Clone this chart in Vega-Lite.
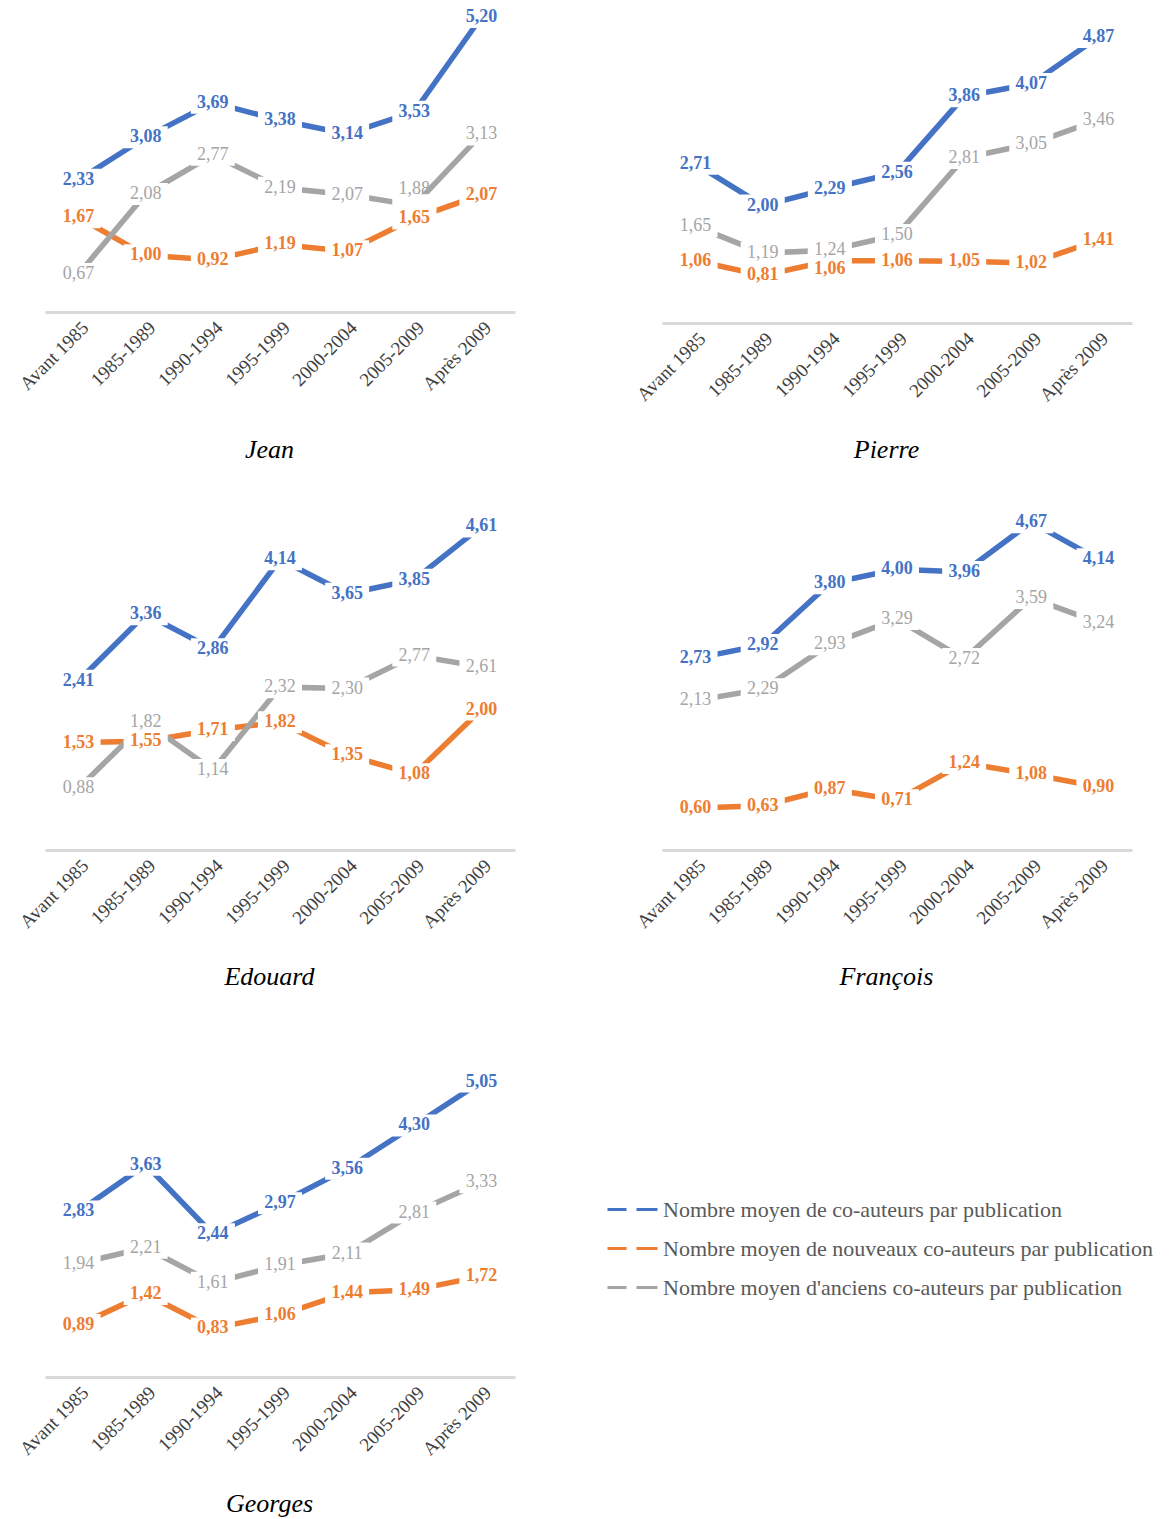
{
  "$schema": "https://vega.github.io/schema/vega-lite/v6.json",
  "padding": {"left": 16, "top": 0, "right": 5, "bottom": 5},
  "background": "white",
  "datasets": {
    "d": [
      {"person":"Jean","series":"Nombre moyen de co-auteurs par publication","period":"Avant 1985","value":2.33},
      {"person":"Jean","series":"Nombre moyen de co-auteurs par publication","period":"1985-1989","value":3.08},
      {"person":"Jean","series":"Nombre moyen de co-auteurs par publication","period":"1990-1994","value":3.69},
      {"person":"Jean","series":"Nombre moyen de co-auteurs par publication","period":"1995-1999","value":3.38},
      {"person":"Jean","series":"Nombre moyen de co-auteurs par publication","period":"2000-2004","value":3.14},
      {"person":"Jean","series":"Nombre moyen de co-auteurs par publication","period":"2005-2009","value":3.53},
      {"person":"Jean","series":"Nombre moyen de co-auteurs par publication","period":"Après 2009","value":5.20},
      {"person":"Jean","series":"Nombre moyen de nouveaux co-auteurs par publication","period":"Avant 1985","value":1.67},
      {"person":"Jean","series":"Nombre moyen de nouveaux co-auteurs par publication","period":"1985-1989","value":1.00},
      {"person":"Jean","series":"Nombre moyen de nouveaux co-auteurs par publication","period":"1990-1994","value":0.92},
      {"person":"Jean","series":"Nombre moyen de nouveaux co-auteurs par publication","period":"1995-1999","value":1.19},
      {"person":"Jean","series":"Nombre moyen de nouveaux co-auteurs par publication","period":"2000-2004","value":1.07},
      {"person":"Jean","series":"Nombre moyen de nouveaux co-auteurs par publication","period":"2005-2009","value":1.65},
      {"person":"Jean","series":"Nombre moyen de nouveaux co-auteurs par publication","period":"Après 2009","value":2.07},
      {"person":"Jean","series":"Nombre moyen d'anciens co-auteurs par publication","period":"Avant 1985","value":0.67},
      {"person":"Jean","series":"Nombre moyen d'anciens co-auteurs par publication","period":"1985-1989","value":2.08},
      {"person":"Jean","series":"Nombre moyen d'anciens co-auteurs par publication","period":"1990-1994","value":2.77},
      {"person":"Jean","series":"Nombre moyen d'anciens co-auteurs par publication","period":"1995-1999","value":2.19},
      {"person":"Jean","series":"Nombre moyen d'anciens co-auteurs par publication","period":"2000-2004","value":2.07},
      {"person":"Jean","series":"Nombre moyen d'anciens co-auteurs par publication","period":"2005-2009","value":1.88},
      {"person":"Jean","series":"Nombre moyen d'anciens co-auteurs par publication","period":"Après 2009","value":3.13},

      {"person":"Pierre","series":"Nombre moyen de co-auteurs par publication","period":"Avant 1985","value":2.71},
      {"person":"Pierre","series":"Nombre moyen de co-auteurs par publication","period":"1985-1989","value":2.00},
      {"person":"Pierre","series":"Nombre moyen de co-auteurs par publication","period":"1990-1994","value":2.29},
      {"person":"Pierre","series":"Nombre moyen de co-auteurs par publication","period":"1995-1999","value":2.56},
      {"person":"Pierre","series":"Nombre moyen de co-auteurs par publication","period":"2000-2004","value":3.86},
      {"person":"Pierre","series":"Nombre moyen de co-auteurs par publication","period":"2005-2009","value":4.07},
      {"person":"Pierre","series":"Nombre moyen de co-auteurs par publication","period":"Après 2009","value":4.87},
      {"person":"Pierre","series":"Nombre moyen de nouveaux co-auteurs par publication","period":"Avant 1985","value":1.06},
      {"person":"Pierre","series":"Nombre moyen de nouveaux co-auteurs par publication","period":"1985-1989","value":0.81},
      {"person":"Pierre","series":"Nombre moyen de nouveaux co-auteurs par publication","period":"1990-1994","value":1.06},
      {"person":"Pierre","series":"Nombre moyen de nouveaux co-auteurs par publication","period":"1995-1999","value":1.06},
      {"person":"Pierre","series":"Nombre moyen de nouveaux co-auteurs par publication","period":"2000-2004","value":1.05},
      {"person":"Pierre","series":"Nombre moyen de nouveaux co-auteurs par publication","period":"2005-2009","value":1.02},
      {"person":"Pierre","series":"Nombre moyen de nouveaux co-auteurs par publication","period":"Après 2009","value":1.41},
      {"person":"Pierre","series":"Nombre moyen d'anciens co-auteurs par publication","period":"Avant 1985","value":1.65},
      {"person":"Pierre","series":"Nombre moyen d'anciens co-auteurs par publication","period":"1985-1989","value":1.19},
      {"person":"Pierre","series":"Nombre moyen d'anciens co-auteurs par publication","period":"1990-1994","value":1.24},
      {"person":"Pierre","series":"Nombre moyen d'anciens co-auteurs par publication","period":"1995-1999","value":1.50},
      {"person":"Pierre","series":"Nombre moyen d'anciens co-auteurs par publication","period":"2000-2004","value":2.81},
      {"person":"Pierre","series":"Nombre moyen d'anciens co-auteurs par publication","period":"2005-2009","value":3.05},
      {"person":"Pierre","series":"Nombre moyen d'anciens co-auteurs par publication","period":"Après 2009","value":3.46},

      {"person":"Edouard","series":"Nombre moyen de co-auteurs par publication","period":"Avant 1985","value":2.41},
      {"person":"Edouard","series":"Nombre moyen de co-auteurs par publication","period":"1985-1989","value":3.36},
      {"person":"Edouard","series":"Nombre moyen de co-auteurs par publication","period":"1990-1994","value":2.86},
      {"person":"Edouard","series":"Nombre moyen de co-auteurs par publication","period":"1995-1999","value":4.14},
      {"person":"Edouard","series":"Nombre moyen de co-auteurs par publication","period":"2000-2004","value":3.65},
      {"person":"Edouard","series":"Nombre moyen de co-auteurs par publication","period":"2005-2009","value":3.85},
      {"person":"Edouard","series":"Nombre moyen de co-auteurs par publication","period":"Après 2009","value":4.61},
      {"person":"Edouard","series":"Nombre moyen de nouveaux co-auteurs par publication","period":"Avant 1985","value":1.53},
      {"person":"Edouard","series":"Nombre moyen de nouveaux co-auteurs par publication","period":"1985-1989","value":1.55},
      {"person":"Edouard","series":"Nombre moyen de nouveaux co-auteurs par publication","period":"1990-1994","value":1.71},
      {"person":"Edouard","series":"Nombre moyen de nouveaux co-auteurs par publication","period":"1995-1999","value":1.82},
      {"person":"Edouard","series":"Nombre moyen de nouveaux co-auteurs par publication","period":"2000-2004","value":1.35},
      {"person":"Edouard","series":"Nombre moyen de nouveaux co-auteurs par publication","period":"2005-2009","value":1.08},
      {"person":"Edouard","series":"Nombre moyen de nouveaux co-auteurs par publication","period":"Après 2009","value":2.00},
      {"person":"Edouard","series":"Nombre moyen d'anciens co-auteurs par publication","period":"Avant 1985","value":0.88},
      {"person":"Edouard","series":"Nombre moyen d'anciens co-auteurs par publication","period":"1985-1989","value":1.82},
      {"person":"Edouard","series":"Nombre moyen d'anciens co-auteurs par publication","period":"1990-1994","value":1.14},
      {"person":"Edouard","series":"Nombre moyen d'anciens co-auteurs par publication","period":"1995-1999","value":2.32},
      {"person":"Edouard","series":"Nombre moyen d'anciens co-auteurs par publication","period":"2000-2004","value":2.30},
      {"person":"Edouard","series":"Nombre moyen d'anciens co-auteurs par publication","period":"2005-2009","value":2.77},
      {"person":"Edouard","series":"Nombre moyen d'anciens co-auteurs par publication","period":"Après 2009","value":2.61},

      {"person":"François","series":"Nombre moyen de co-auteurs par publication","period":"Avant 1985","value":2.73},
      {"person":"François","series":"Nombre moyen de co-auteurs par publication","period":"1985-1989","value":2.92},
      {"person":"François","series":"Nombre moyen de co-auteurs par publication","period":"1990-1994","value":3.80},
      {"person":"François","series":"Nombre moyen de co-auteurs par publication","period":"1995-1999","value":4.00},
      {"person":"François","series":"Nombre moyen de co-auteurs par publication","period":"2000-2004","value":3.96},
      {"person":"François","series":"Nombre moyen de co-auteurs par publication","period":"2005-2009","value":4.67},
      {"person":"François","series":"Nombre moyen de co-auteurs par publication","period":"Après 2009","value":4.14},
      {"person":"François","series":"Nombre moyen de nouveaux co-auteurs par publication","period":"Avant 1985","value":0.60},
      {"person":"François","series":"Nombre moyen de nouveaux co-auteurs par publication","period":"1985-1989","value":0.63},
      {"person":"François","series":"Nombre moyen de nouveaux co-auteurs par publication","period":"1990-1994","value":0.87},
      {"person":"François","series":"Nombre moyen de nouveaux co-auteurs par publication","period":"1995-1999","value":0.71},
      {"person":"François","series":"Nombre moyen de nouveaux co-auteurs par publication","period":"2000-2004","value":1.24},
      {"person":"François","series":"Nombre moyen de nouveaux co-auteurs par publication","period":"2005-2009","value":1.08},
      {"person":"François","series":"Nombre moyen de nouveaux co-auteurs par publication","period":"Après 2009","value":0.90},
      {"person":"François","series":"Nombre moyen d'anciens co-auteurs par publication","period":"Avant 1985","value":2.13},
      {"person":"François","series":"Nombre moyen d'anciens co-auteurs par publication","period":"1985-1989","value":2.29},
      {"person":"François","series":"Nombre moyen d'anciens co-auteurs par publication","period":"1990-1994","value":2.93},
      {"person":"François","series":"Nombre moyen d'anciens co-auteurs par publication","period":"1995-1999","value":3.29},
      {"person":"François","series":"Nombre moyen d'anciens co-auteurs par publication","period":"2000-2004","value":2.72},
      {"person":"François","series":"Nombre moyen d'anciens co-auteurs par publication","period":"2005-2009","value":3.59},
      {"person":"François","series":"Nombre moyen d'anciens co-auteurs par publication","period":"Après 2009","value":3.24},

      {"person":"Georges","series":"Nombre moyen de co-auteurs par publication","period":"Avant 1985","value":2.83},
      {"person":"Georges","series":"Nombre moyen de co-auteurs par publication","period":"1985-1989","value":3.63},
      {"person":"Georges","series":"Nombre moyen de co-auteurs par publication","period":"1990-1994","value":2.44},
      {"person":"Georges","series":"Nombre moyen de co-auteurs par publication","period":"1995-1999","value":2.97},
      {"person":"Georges","series":"Nombre moyen de co-auteurs par publication","period":"2000-2004","value":3.56},
      {"person":"Georges","series":"Nombre moyen de co-auteurs par publication","period":"2005-2009","value":4.30},
      {"person":"Georges","series":"Nombre moyen de co-auteurs par publication","period":"Après 2009","value":5.05},
      {"person":"Georges","series":"Nombre moyen de nouveaux co-auteurs par publication","period":"Avant 1985","value":0.89},
      {"person":"Georges","series":"Nombre moyen de nouveaux co-auteurs par publication","period":"1985-1989","value":1.42},
      {"person":"Georges","series":"Nombre moyen de nouveaux co-auteurs par publication","period":"1990-1994","value":0.83},
      {"person":"Georges","series":"Nombre moyen de nouveaux co-auteurs par publication","period":"1995-1999","value":1.06},
      {"person":"Georges","series":"Nombre moyen de nouveaux co-auteurs par publication","period":"2000-2004","value":1.44},
      {"person":"Georges","series":"Nombre moyen de nouveaux co-auteurs par publication","period":"2005-2009","value":1.49},
      {"person":"Georges","series":"Nombre moyen de nouveaux co-auteurs par publication","period":"Après 2009","value":1.72},
      {"person":"Georges","series":"Nombre moyen d'anciens co-auteurs par publication","period":"Avant 1985","value":1.94},
      {"person":"Georges","series":"Nombre moyen d'anciens co-auteurs par publication","period":"1985-1989","value":2.21},
      {"person":"Georges","series":"Nombre moyen d'anciens co-auteurs par publication","period":"1990-1994","value":1.61},
      {"person":"Georges","series":"Nombre moyen d'anciens co-auteurs par publication","period":"1995-1999","value":1.91},
      {"person":"Georges","series":"Nombre moyen d'anciens co-auteurs par publication","period":"2000-2004","value":2.11},
      {"person":"Georges","series":"Nombre moyen d'anciens co-auteurs par publication","period":"2005-2009","value":2.81},
      {"person":"Georges","series":"Nombre moyen d'anciens co-auteurs par publication","period":"Après 2009","value":3.33}
    ]
  },
  "data": {"name": "d"},
  "columns": 2,
  "spacing": {"row": 176, "column": 147},
  "bounds": "flush",
  "resolve": {"scale": {"color": "shared"}, "legend": {"color": "shared"}},
  "concat": [
    {
      "width": 470, "height": 312,
      "transform": [{"filter": "datum.person === 'Jean'"}],
      "encoding": {
        "x": {"field": "period", "type": "ordinal", "sort": ["Avant 1985","1985-1989","1990-1994","1995-1999","2000-2004","2005-2009","Après 2009"], "scale": {"type": "point", "padding": 0.5}, "axis": {"title": "Jean", "titlePadding": 43}},
        "y": {"field": "value", "type": "quantitative", "scale": {"domain": [0, 5.5], "nice": false}, "axis": null}
      },
      "layer": [
        {"mark": {"type": "line", "strokeWidth": 5.5, "strokeCap": "butt"}, "encoding": {"color": {"field": "series", "type": "nominal", "sort": null, "scale": {"domain": ["Nombre moyen de co-auteurs par publication","Nombre moyen de nouveaux co-auteurs par publication","Nombre moyen d'anciens co-auteurs par publication"], "range": ["#4472C4","#ED7D31","#A5A5A5"]}, "legend": {"orient": "none", "legendX": 566, "legendY": 1188, "title": null, "symbolType": "M-1.25,0H-0.3M0.2,0H1.25", "symbolSize": 1600, "symbolStrokeWidth": 3, "labelFont": "Liberation Serif", "labelFontSize": 22, "labelColor": "#595959", "rowPadding": 6, "labelLimit": 0, "labelOffset": 9}}}},
        {"mark": {"type": "point", "shape": "M-1,-0.5H1V0.5H-1Z", "size": 1936, "filled": true, "color": "white", "opacity": 1, "strokeWidth": 0}, "encoding": {}},
        {"transform": [{"filter": "datum.series !== \"Nombre moyen d'anciens co-auteurs par publication\""}], "mark": {"type": "text", "font": "Liberation Serif", "fontSize": 18, "fontWeight": "bold"}, "encoding": {"text": {"field": "value", "type": "quantitative", "format": ".2f"}, "fill": {"field": "series", "type": "nominal", "scale": {"domain": ["Nombre moyen de co-auteurs par publication","Nombre moyen de nouveaux co-auteurs par publication","Nombre moyen d'anciens co-auteurs par publication"], "range": ["#4472C4","#ED7D31","#A5A5A5"]}, "legend": null}}},
        {"transform": [{"filter": "datum.series === \"Nombre moyen d'anciens co-auteurs par publication\" && datum.period !== '2005-2009'"}], "mark": {"type": "text", "font": "Liberation Serif", "fontSize": 18, "color": "#A5A5A5"}, "encoding": {"text": {"field": "value", "type": "quantitative", "format": ".2f"}}},
        {"transform": [{"filter": "datum.series === \"Nombre moyen d'anciens co-auteurs par publication\" && datum.period === '2005-2009'"}], "mark": {"type": "text", "font": "Liberation Serif", "fontSize": 18, "color": "#A5A5A5", "dy": -16}, "encoding": {"text": {"field": "value", "type": "quantitative", "format": ".2f"}}}
      ]
    },
    {
      "width": 470, "height": 323,
      "transform": [{"filter": "datum.person === 'Pierre'"}],
      "encoding": {
        "x": {"field": "period", "type": "ordinal", "sort": ["Avant 1985","1985-1989","1990-1994","1995-1999","2000-2004","2005-2009","Après 2009"], "scale": {"type": "point", "padding": 0.5}, "axis": {"title": "Pierre"}},
        "y": {"field": "value", "type": "quantitative", "scale": {"domain": [0, 5.5], "nice": false}, "axis": null}
      },
      "layer": [
        {"mark": {"type": "line", "strokeWidth": 5.5, "strokeCap": "butt"}, "encoding": {"color": {"field": "series", "type": "nominal", "sort": null}}},
        {"mark": {"type": "point", "shape": "M-1,-0.5H1V0.5H-1Z", "size": 1936, "filled": true, "color": "white", "opacity": 1, "strokeWidth": 0}, "encoding": {}},
        {"transform": [{"filter": "datum.series !== \"Nombre moyen d'anciens co-auteurs par publication\" && !(datum.period === '1990-1994' && datum.series === 'Nombre moyen de nouveaux co-auteurs par publication')"}], "mark": {"type": "text", "font": "Liberation Serif", "fontSize": 18, "fontWeight": "bold"}, "encoding": {"text": {"field": "value", "type": "quantitative", "format": ".2f"}, "fill": {"field": "series", "type": "nominal", "legend": null}}},
        {"transform": [{"filter": "datum.period === '1990-1994' && datum.series === 'Nombre moyen de nouveaux co-auteurs par publication'"}], "mark": {"type": "text", "font": "Liberation Serif", "fontSize": 18, "fontWeight": "bold", "color": "#ED7D31", "dy": 8}, "encoding": {"text": {"field": "value", "type": "quantitative", "format": ".2f"}}},
        {"transform": [{"filter": "datum.series === \"Nombre moyen d'anciens co-auteurs par publication\""}], "mark": {"type": "text", "font": "Liberation Serif", "fontSize": 18, "color": "#A5A5A5"}, "encoding": {"text": {"field": "value", "type": "quantitative", "format": ".2f"}}}
      ]
    },
    {
      "width": 470, "height": 351,
      "transform": [{"filter": "datum.person === 'Edouard'"}],
      "encoding": {
        "x": {"field": "period", "type": "ordinal", "sort": ["Avant 1985","1985-1989","1990-1994","1995-1999","2000-2004","2005-2009","Après 2009"], "scale": {"type": "point", "padding": 0.5}, "axis": {"title": "Edouard"}},
        "y": {"field": "value", "type": "quantitative", "scale": {"domain": [0, 5], "nice": false}, "axis": null}
      },
      "layer": [
        {"mark": {"type": "line", "strokeWidth": 5.5, "strokeCap": "butt"}, "encoding": {"color": {"field": "series", "type": "nominal", "sort": null}}},
        {"mark": {"type": "point", "shape": "M-1,-0.5H1V0.5H-1Z", "size": 1936, "filled": true, "color": "white", "opacity": 1, "strokeWidth": 0}, "encoding": {}},
        {"transform": [{"filter": "datum.series !== \"Nombre moyen d'anciens co-auteurs par publication\""}], "mark": {"type": "text", "font": "Liberation Serif", "fontSize": 18, "fontWeight": "bold"}, "encoding": {"text": {"field": "value", "type": "quantitative", "format": ".2f"}, "fill": {"field": "series", "type": "nominal", "legend": null}}},
        {"transform": [{"filter": "datum.series === \"Nombre moyen d'anciens co-auteurs par publication\""}], "mark": {"type": "text", "font": "Liberation Serif", "fontSize": 18, "color": "#A5A5A5"}, "encoding": {"text": {"field": "value", "type": "quantitative", "format": ".2f"}}}
      ]
    },
    {
      "width": 470, "height": 351,
      "transform": [{"filter": "datum.person === 'François'"}],
      "encoding": {
        "x": {"field": "period", "type": "ordinal", "sort": ["Avant 1985","1985-1989","1990-1994","1995-1999","2000-2004","2005-2009","Après 2009"], "scale": {"type": "point", "padding": 0.5}, "axis": {"title": "François"}},
        "y": {"field": "value", "type": "quantitative", "scale": {"domain": [0, 5], "nice": false}, "axis": null}
      },
      "layer": [
        {"mark": {"type": "line", "strokeWidth": 5.5, "strokeCap": "butt"}, "encoding": {"color": {"field": "series", "type": "nominal", "sort": null}}},
        {"mark": {"type": "point", "shape": "M-1,-0.5H1V0.5H-1Z", "size": 1936, "filled": true, "color": "white", "opacity": 1, "strokeWidth": 0}, "encoding": {}},
        {"transform": [{"filter": "datum.series !== \"Nombre moyen d'anciens co-auteurs par publication\""}], "mark": {"type": "text", "font": "Liberation Serif", "fontSize": 18, "fontWeight": "bold"}, "encoding": {"text": {"field": "value", "type": "quantitative", "format": ".2f"}, "fill": {"field": "series", "type": "nominal", "legend": null}}},
        {"transform": [{"filter": "datum.series === \"Nombre moyen d'anciens co-auteurs par publication\""}], "mark": {"type": "text", "font": "Liberation Serif", "fontSize": 18, "color": "#A5A5A5"}, "encoding": {"text": {"field": "value", "type": "quantitative", "format": ".2f"}}}
      ]
    },
    {
      "width": 470, "height": 351,
      "transform": [{"filter": "datum.person === 'Georges'"}],
      "encoding": {
        "x": {"field": "period", "type": "ordinal", "sort": ["Avant 1985","1985-1989","1990-1994","1995-1999","2000-2004","2005-2009","Après 2009"], "scale": {"type": "point", "padding": 0.5}, "axis": {"title": "Georges"}},
        "y": {"field": "value", "type": "quantitative", "scale": {"domain": [0, 6], "nice": false}, "axis": null}
      },
      "layer": [
        {"mark": {"type": "line", "strokeWidth": 5.5, "strokeCap": "butt"}, "encoding": {"color": {"field": "series", "type": "nominal", "sort": null}}},
        {"mark": {"type": "point", "shape": "M-1,-0.5H1V0.5H-1Z", "size": 1936, "filled": true, "color": "white", "opacity": 1, "strokeWidth": 0}, "encoding": {}},
        {"transform": [{"filter": "datum.series !== \"Nombre moyen d'anciens co-auteurs par publication\""}], "mark": {"type": "text", "font": "Liberation Serif", "fontSize": 18, "fontWeight": "bold"}, "encoding": {"text": {"field": "value", "type": "quantitative", "format": ".2f"}, "fill": {"field": "series", "type": "nominal", "legend": null}}},
        {"transform": [{"filter": "datum.series === \"Nombre moyen d'anciens co-auteurs par publication\""}], "mark": {"type": "text", "font": "Liberation Serif", "fontSize": 18, "color": "#A5A5A5"}, "encoding": {"text": {"field": "value", "type": "quantitative", "format": ".2f"}}}
      ]
    }
  ],
  "config": {
    "locale": {"number": {"decimal": ",", "thousands": " ", "grouping": [3], "currency": ["", " €"]}},
    "view": {"stroke": null},
    "axis": {"labelFont": "Liberation Serif", "labelFontSize": 19, "labelColor": "#404040", "labelAngle": -45, "labelPadding": 6, "domainColor": "#D9D9D9", "domainWidth": 3, "ticks": false, "grid": false, "titleFont": "Liberation Serif", "titleFontSize": 26, "titleFontStyle": "italic", "titleFontWeight": "normal", "titleColor": "#000000", "titlePadding": 32, "titleX": 224}
  }
}
